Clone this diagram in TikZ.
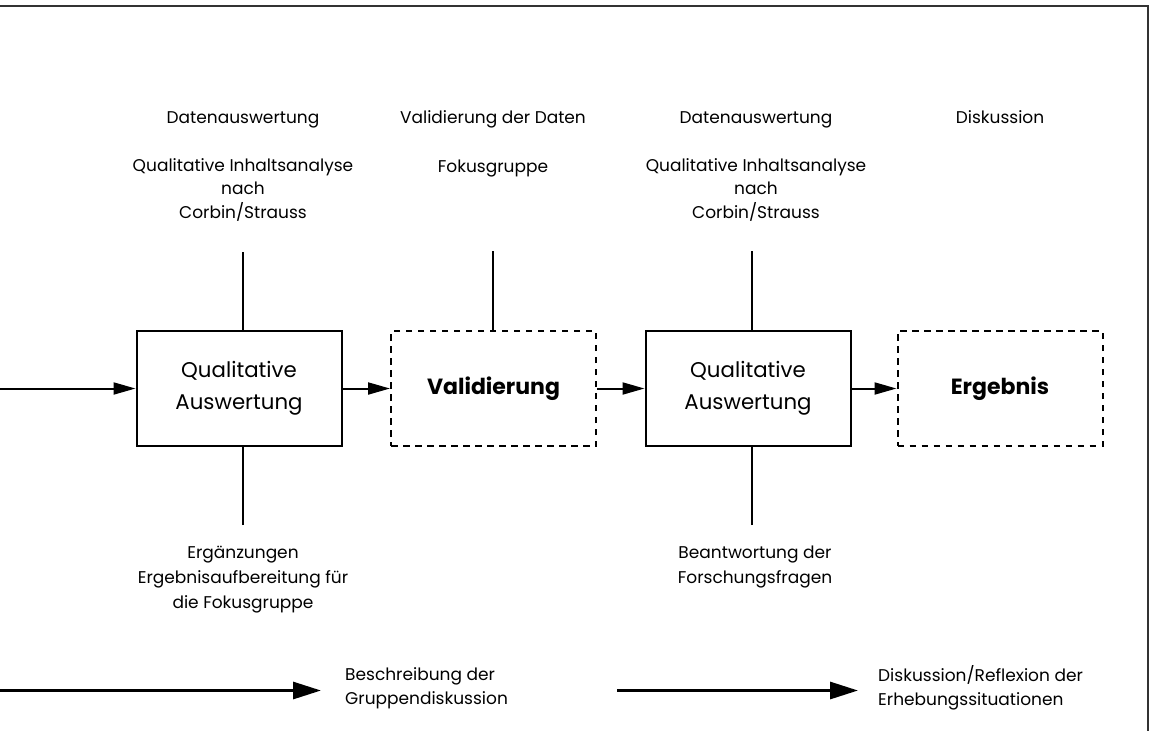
\documentclass[tikz,border=0pt]{standalone}
\usepackage{fontspec}
\setmainfont{Poppins}
\usetikzlibrary{arrows.meta}

\tikzset{
  stage/.style={draw, line width=2pt, minimum width=205pt, minimum height=115pt,
    inner sep=0pt, align=center, font=\fontsize{21.3}{31.5}\selectfont},
  openstage/.style={stage, dashed, dash pattern=on 6.5pt off 5.5pt,
    font=\fontsize{22}{31}\selectfont\bfseries},
  note/.style={align=center, inner sep=0pt, anchor=base, font=\fontsize{17}{23.5}\selectfont},
  lownote/.style={note, font=\fontsize{17}{25}\selectfont},
  sidenote/.style={align=left, inner sep=0pt, anchor=west, font=\fontsize{17}{24.5}\selectfont},
  flow/.style={line width=2pt, -{Triangle[length=22pt,width=12pt]}},
  bigflow/.style={line width=3pt, -{Triangle[length=28pt,width=17pt]}},
  stem/.style={line width=2pt}
}

\begin{document}
\begin{tikzpicture}[x=1pt,y=-1pt]
\useasboundingbox (0,0) rectangle (1150,731);

% frame
\draw[line width=2pt, black!80] (0,6) -- (1148,6) -- (1148,731);

% process stages
\node[stage]     (q1)  at (239,388.5)  {Qualitative\\Auswertung};
\node[openstage] (val) at (493.5,388.5) {Validierung};
\node[stage]     (q2)  at (748,388.5)  {Qualitative\\Auswertung};
\node[openstage] (erg) at (1000,388.5) {Ergebnis};

% flow between stages
\coordinate (in) at (0,388.5);
\draw[flow] (in) -- (q1.west);
\draw[flow] (q1.east) -- (val.west);
\draw[flow] (val.east) -- (q2.west);
\draw[flow] (q2.east) -- (erg.west);

% annotations above (multi-line nodes are placed by their last baseline)
\node[note] (t1a) at (243,123) {Datenauswertung};
\node[note] (t1b) at (243,218) {Qualitative Inhaltsanalyse\\nach\\Corbin/Strauss};
\node[note] (t2a) at (493,123) {Validierung der Daten};
\node[note] (t2b) at (493,172) {Fokusgruppe};
\node[note] (t3a) at (756,123) {Datenauswertung};
\node[note] (t3b) at (756,218) {Qualitative Inhaltsanalyse\\nach\\Corbin/Strauss};
\node[note] (t4a) at (1000,123) {Diskussion};

% annotations below
\node[lownote] (b1) at (243,608) {Ergänzungen\\Ergebnisaufbereitung für\\die Fokusgruppe};
\node[lownote] (b3) at (755,583) {Beantwortung der\\Forschungsfragen};

% stems linking stages and annotations
\coordinate (s1t) at (243,252);
\coordinate (s1b) at (243,525);
\coordinate (s2t) at (493,251);
\coordinate (s3t) at (752,251);
\coordinate (s3b) at (752,525);
\draw[stem] (s1t) -- (s1t |- q1.north);
\draw[stem] (s1b) -- (s1b |- q1.south);
\draw[stem] (s2t) -- (s2t |- val.north);
\draw[stem] (s3t) -- (s3t |- q2.north);
\draw[stem] (s3b) -- (s3b |- q2.south);

% timeline arrows at the bottom
\coordinate (a1s) at (0,690.5);
\coordinate (a1e) at (321,690.5);
\coordinate (a2s) at (617,690.5);
\coordinate (a2e) at (858,690.5);
\draw[bigflow] (a1s) -- (a1e);
\draw[bigflow] (a2s) -- (a2e);
\node[sidenote] (l1) at (345,688) {Beschreibung der\\Gruppendiskussion};
\node[sidenote] (l2) at (878,688) {Diskussion/Reflexion der\\Erhebungssituationen};
\end{tikzpicture}
\end{document}
